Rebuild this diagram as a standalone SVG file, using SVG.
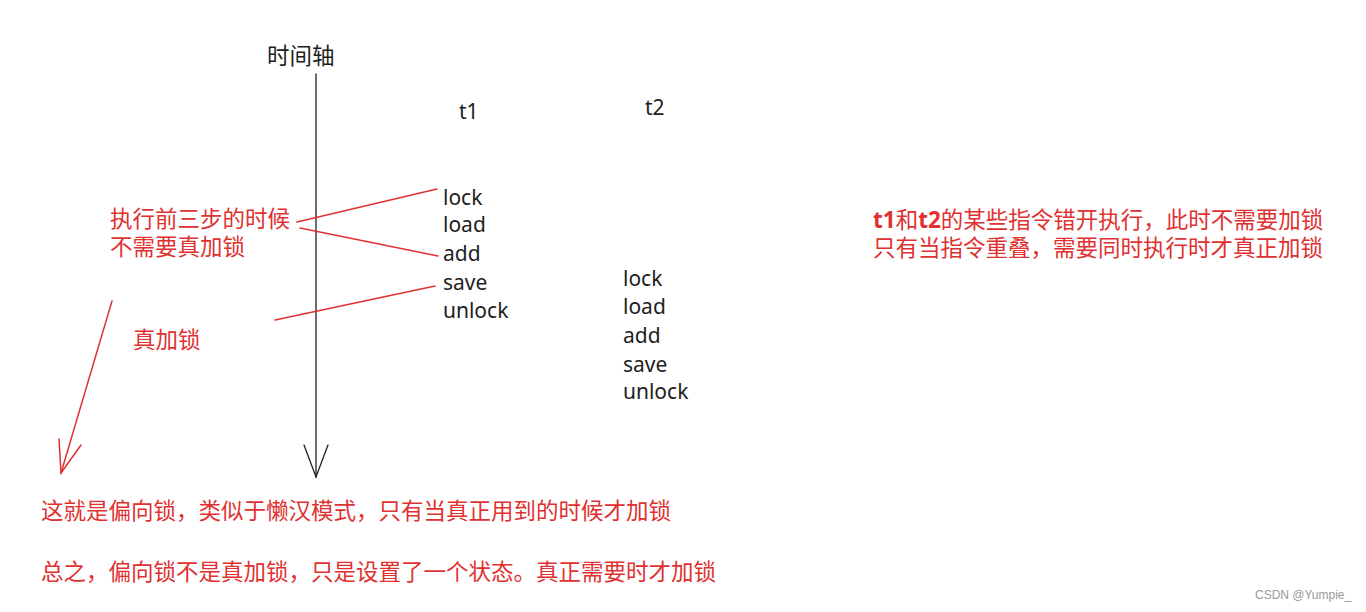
<svg xmlns="http://www.w3.org/2000/svg" width="1366" height="612" viewBox="0 0 1366 612">
<style>
.cjk{font-family:"Noto Sans CJK SC","Noto Sans",sans-serif;font-size:22.5px}
.red{fill:#e03131}
.blk{fill:#1e1e1e}
.hand{font-family:"Noto Sans","DejaVu Sans",sans-serif;font-size:21px;fill:#1e1e1e}
.rl{stroke:#e03131;stroke-width:1.5;fill:none;stroke-linecap:round}
.bl{stroke:#1e1e1e;stroke-width:1.3;fill:none;stroke-linecap:round}
.wm{font-family:"Liberation Sans",sans-serif;font-size:12px;fill:#999}
</style>
<rect width="1366" height="612" fill="#ffffff"/>
<g id="connectors">
<path class="bl" d="M316 74 L316 477"/>
<path class="bl" d="M304 445 L316 477 L328 445"/>
<path class="rl" d="M297 222 L437 189"/>
<path class="rl" d="M300 228 L438 256"/>
<path class="rl" d="M275 320 L435 286"/>
<path class="rl" d="M112 301 L61 473"/>
<path class="rl" d="M59 439 L61 473 L81 445"/>
</g>
<g id="axis-label"><text class="cjk blk" x="267" y="64">时间轴</text></g>
<g id="t1"><text class="hand" x="459" y="119">t1</text></g>
<g id="t2"><text class="hand" x="645" y="115">t2</text></g>
<g id="t1-steps">
<text class="hand" x="443" y="205">lock</text>
<text class="hand" x="443" y="232">load</text>
<text class="hand" x="443" y="261">add</text>
<text class="hand" x="443" y="290">save</text>
<text class="hand" x="443" y="318">unlock</text>
</g>
<g id="t2-steps">
<text class="hand" x="623" y="286">lock</text>
<text class="hand" x="623" y="314">load</text>
<text class="hand" x="623" y="343">add</text>
<text class="hand" x="623" y="372">save</text>
<text class="hand" x="623" y="399">unlock</text>
</g>
<g id="note-first-three">
<text class="cjk red" x="110" y="227">执行前三步的时候<tspan x="110" dy="28">不需要真加锁</tspan></text>
</g>
<g id="note-real-lock"><text class="cjk red" x="133" y="348">真加锁</text></g>
<g id="note-right">
<text class="cjk red" x="873" y="228"><tspan font-weight="bold" font-family="Noto Sans,sans-serif">t1</tspan>和<tspan font-weight="bold" font-family="Noto Sans,sans-serif">t2</tspan>的某些指令错开执行，此时不需要加锁<tspan x="873" dy="28">只有当指令重叠，需要同时执行时才真正加锁</tspan></text>
</g>
<g id="note-bottom">
<text class="cjk red" x="41" y="519">这就是偏向锁，类似于懒汉模式，只有当真正用到的时候才加锁</text>
<text class="cjk red" x="41" y="580">总之，偏向锁不是真加锁，只是设置了一个状态。真正需要时才加锁</text>
</g>
<text class="wm" x="1255" y="599">CSDN @Yumpie_</text>
</svg>
